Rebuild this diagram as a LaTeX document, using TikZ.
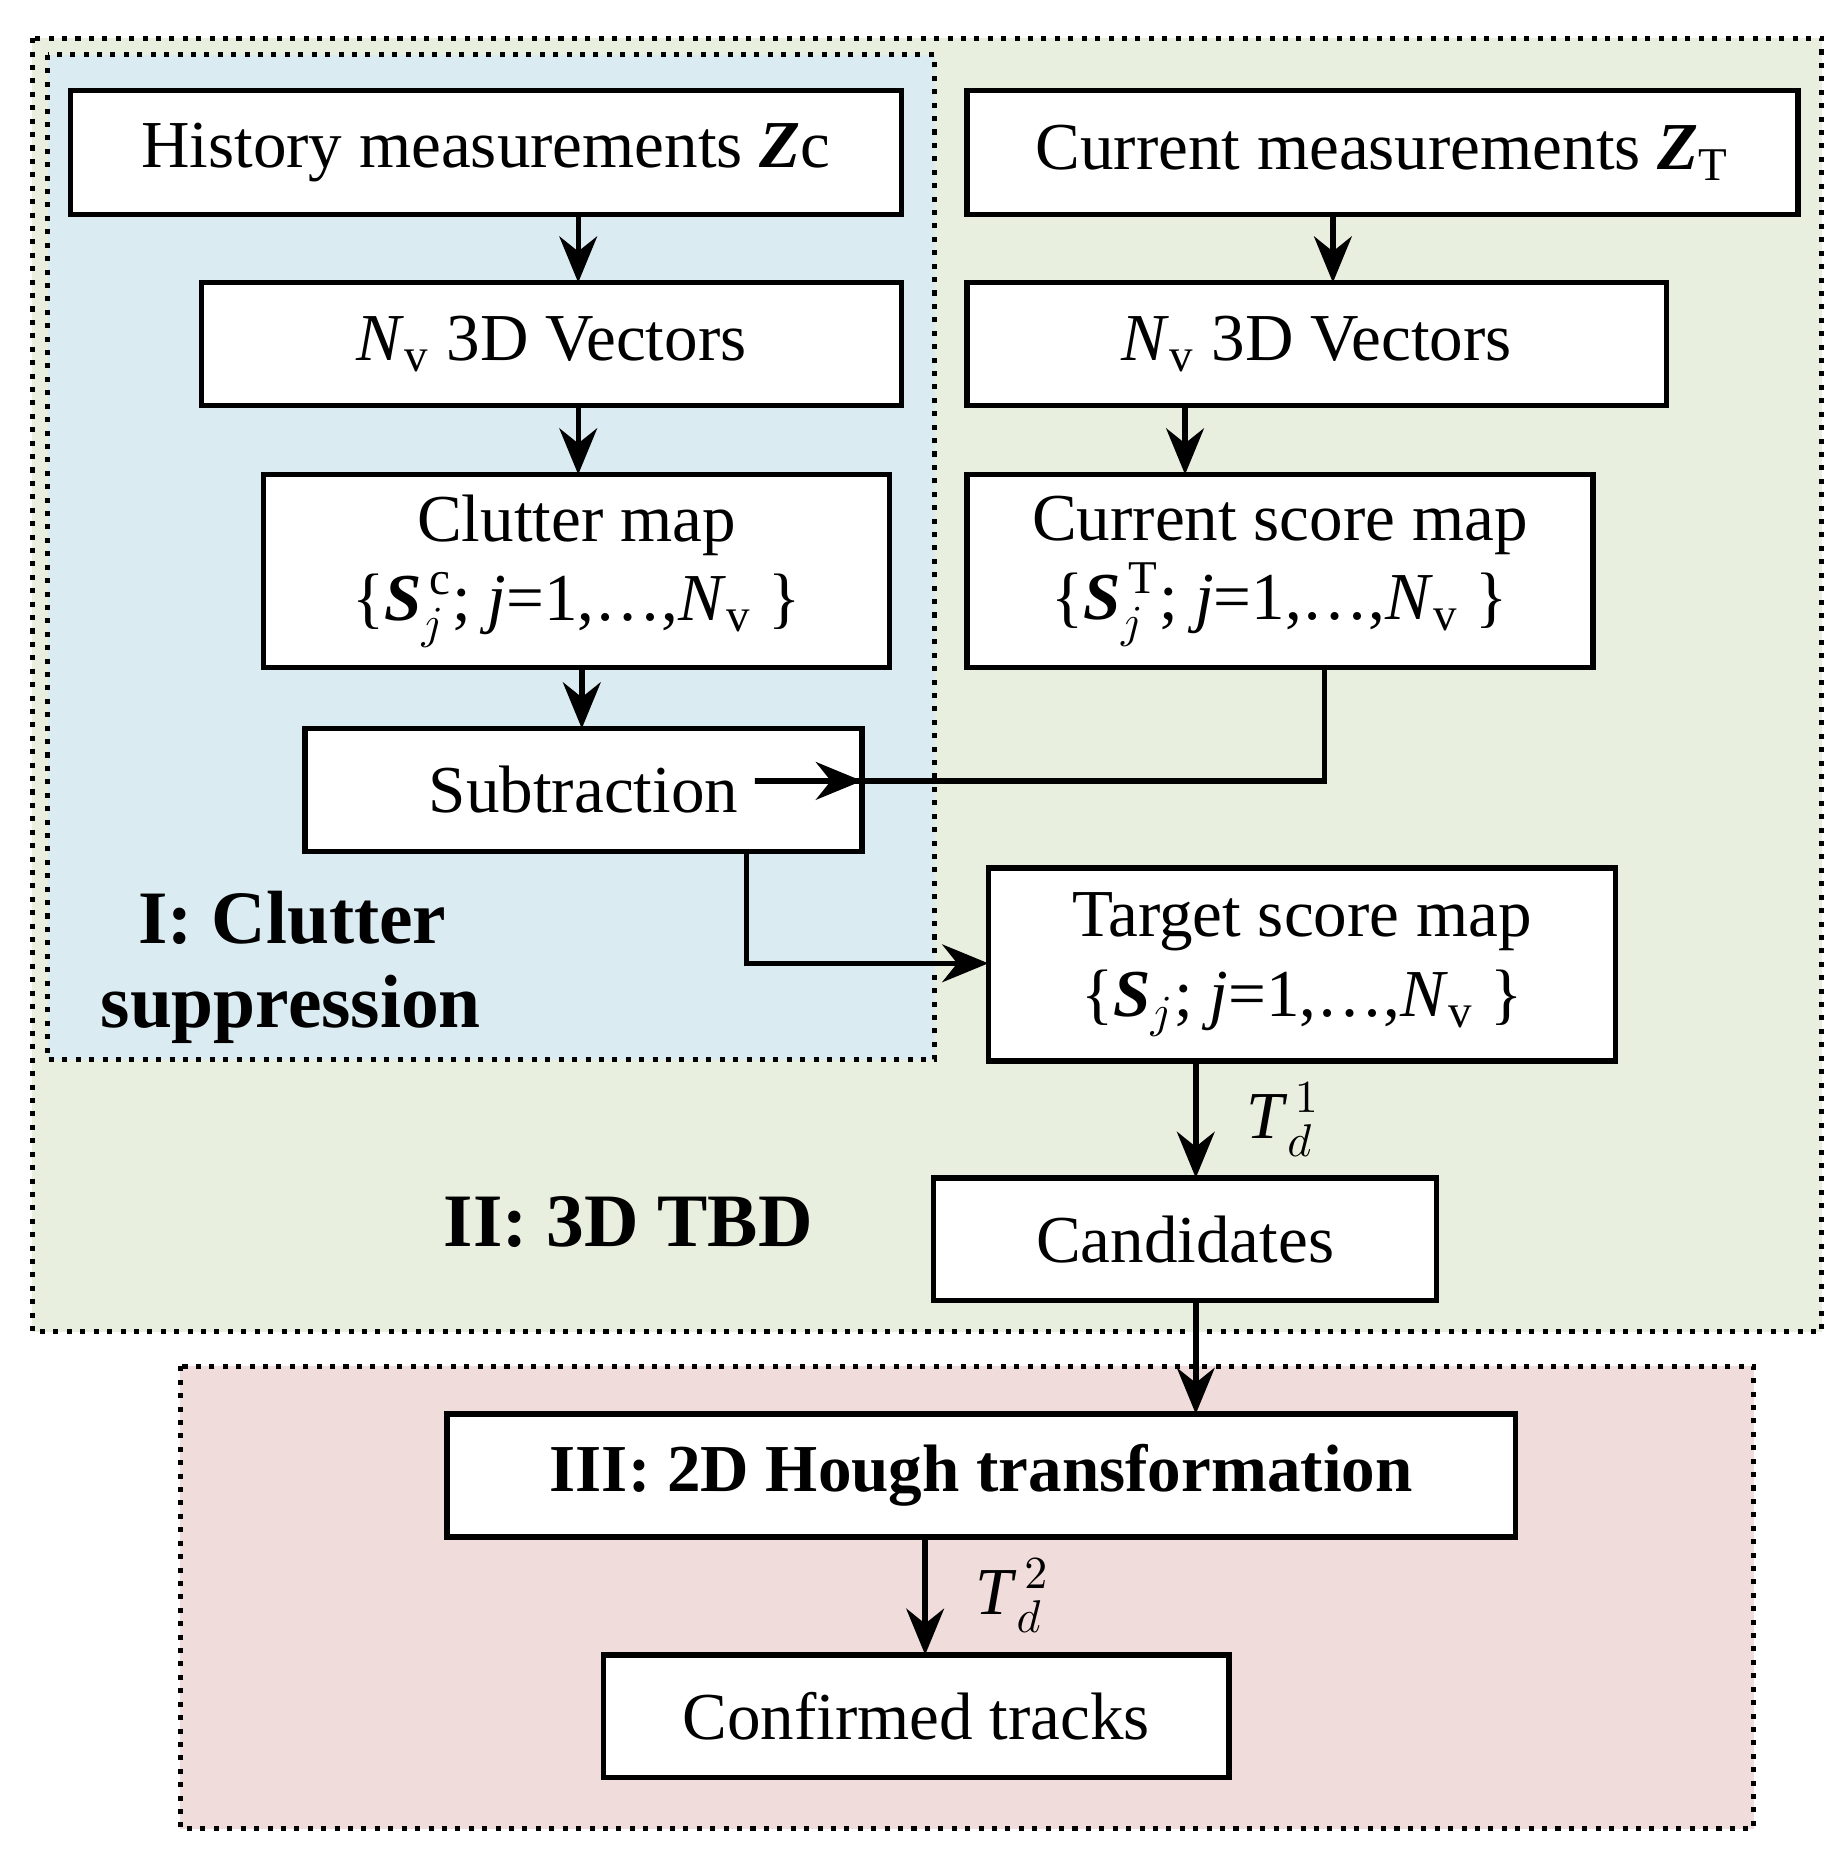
\documentclass[tikz,border=0pt]{standalone}
\usepackage{fontspec}
\setmainfont{Liberation Serif}
\usetikzlibrary{arrows.meta}
\definecolor{gfill}{HTML}{E9EFDF}
\definecolor{bfill}{HTML}{DAEBF2}
\definecolor{pfill}{HTML}{F0DCDA}
\begin{document}
\begin{tikzpicture}[x=0.01cm,y=-0.01cm,
  frame/.style={draw=black,line width=1.2pt,dotted},
  bx/.style={draw=black,line width=1.3pt,fill=white},
  arr/.style={-{Stealth[length=11pt,width=9pt]},line width=1.3pt},
  font=\fontsize{16}{19}\selectfont]
\useasboundingbox (0,0) rectangle (1550,1566);
\fill[gfill] (27,32) rectangle (1528,1117);
\draw[frame] (27,32) rectangle (1528,1117);
\fill[bfill] (40,46) rectangle (784,889);
\draw[frame] (40,46) rectangle (784,889);
\fill[pfill] (151,1146) rectangle (1471,1534);
\draw[frame] (151,1146) rectangle (1471,1534);

\draw[bx] (59,76) rectangle (756,180) node[midway] (h) {History measurements \textbf{\textit{Z}}c};
\coordinate (hS) at (485,180);
\draw[bx] (811,76) rectangle (1508,180) node[midway] (c) {Current measurements \textbf{\textit{Z}}$_{\mathrm{T}}$};
\draw[bx] (169,237) rectangle (756,340) node[midway] (n1) {\textit{N}$_{\mathrm{v}}$ 3D Vectors};
\draw[bx] (811,237) rectangle (1398,340) node[midway] (n2) {\textit{N}$_{\mathrm{v}}$ 3D Vectors};
\draw[bx] (221,398) rectangle (746,560) node[midway,align=center] (cm) {Clutter map\\ \{\textbf{\textit{S}}$_{j}^{\,\mathrm{c}}$; \textit{j}=1,\dots,\textit{N}$_{\mathrm{v}}$ \}};
\draw[bx] (811,398) rectangle (1336,560) node[midway,align=center] (cs) {Current score map\\ \{\textbf{\textit{S}}$_{j}^{\,\mathrm{T}}$; \textit{j}=1,\dots,\textit{N}$_{\mathrm{v}}$ \}};
\draw[bx] (256,611) rectangle (723,714) node[midway] (sub) {Subtraction};
\draw[bx] (829,728) rectangle (1355,890) node[midway,align=center] (ts) {Target score map\\ \{\textbf{\textit{S}}$_{j}$; \textit{j}=1,\dots,\textit{N}$_{\mathrm{v}}$ \}};
\draw[bx] (783,988) rectangle (1205,1091) node[midway] (cand) {Candidates};
\draw[bx] (375,1186) rectangle (1271,1289) node[midway] (hough) {\textbf{III: 2D Hough transformation}};
\draw[bx] (506,1388) rectangle (1031,1491) node[midway] (conf) {Confirmed tracks};

\node[font=\fontsize{18}{20}\selectfont\bfseries,align=left,anchor=north west] (l1) at (72,735) {\ \ I: Clutter\\suppression};
\node[font=\fontsize{18}{20}\selectfont\bfseries] (l2) at (527,1025) {II: 3D TBD};

\draw[arr] (485,180) -- (485,237);
\draw[arr] (485,340) -- (485,398);
\draw[arr] (1118,180) -- (1118,237);
\draw[arr] (994,340) -- (994,398);
\draw[arr] (488,560) -- (488,611);
\draw[arr] (1111,560) -- (1111,655) -- (sub.east |- 0,655) -- (723,655);
\draw[arr] (626,714) -- (626,808) -- (829,808);
\draw[arr] (1003,890) -- (1003,988) node[midway,right=8pt] (t1) {\textit{T}$_{d}^{\,1}$};
\draw[arr] (1003,1091) -- (1003,1186);
\draw[arr] (776,1289) -- (776,1388) node[midway,right=8pt] (t2) {\textit{T}$_{d}^{\,2}$};
\end{tikzpicture}
\end{document}
